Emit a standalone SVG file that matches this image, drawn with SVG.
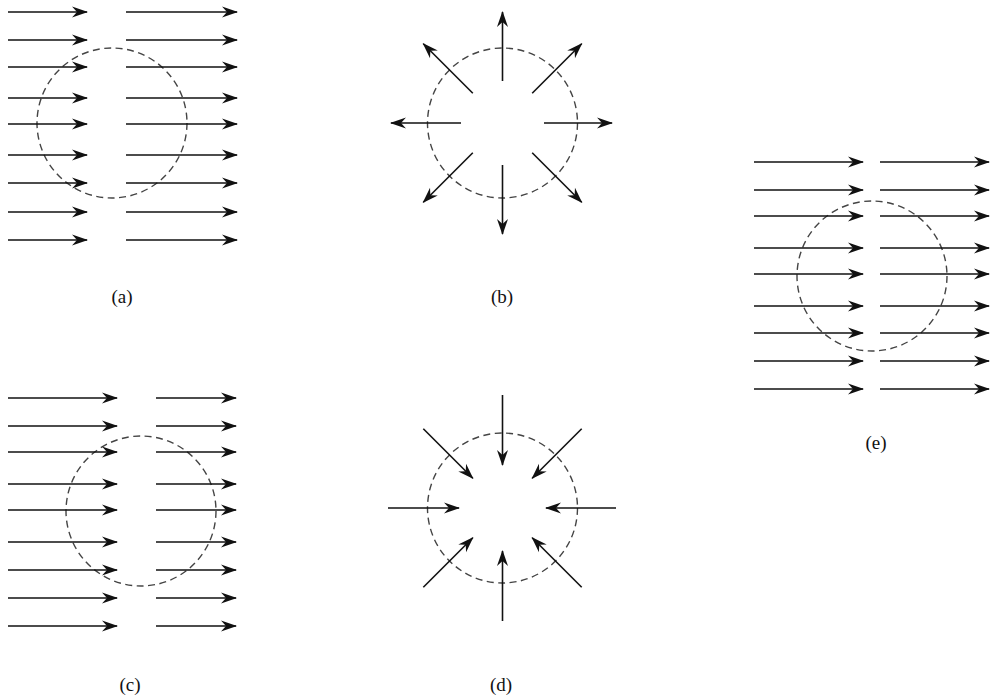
<svg xmlns="http://www.w3.org/2000/svg" width="997" height="698" viewBox="0 0 997 698">
<style>
.ar{stroke:#111;stroke-width:1.6;fill:none;marker-end:url(#ah)}
.ring{fill:none;stroke:#444;stroke-width:1.4;stroke-dasharray:7 4.5}
.lbl{font-family:"Liberation Serif","Times New Roman",serif;font-size:19px;fill:#111;text-anchor:middle}
</style>
<defs>
<marker id="ah" markerUnits="userSpaceOnUse" markerWidth="20" markerHeight="14" refX="-1" refY="0" orient="auto" overflow="visible">
<path d="M0,0 L-16,-5.5 L-11,0 L-16,5.5 Z" fill="#111"/>
</marker>
</defs>
<rect width="997" height="698" fill="#fff"/>
<g id="panel-a">
<circle class="ring" cx="112" cy="123" r="75"/>
<text class="lbl" x="122" y="303">(a)</text>
</g>
<g id="panel-b">
<circle class="ring" cx="502.5" cy="123" r="75"/>
<text class="lbl" x="502" y="303">(b)</text>
</g>
<g id="panel-c">
<circle class="ring" cx="141" cy="511" r="75"/>
<text class="lbl" x="130" y="691">(c)</text>
</g>
<g id="panel-d">
<circle class="ring" cx="502.5" cy="508" r="75"/>
<text class="lbl" x="501" y="691">(d)</text>
</g>
<g id="panel-e">
<circle class="ring" cx="872" cy="276" r="75"/>
<text class="lbl" x="876" y="449">(e)</text>
</g>
<g id="connectors">
<g id="arrows-a">
<line class="ar" x1="8" y1="12" x2="87" y2="12"/><line class="ar" x1="126" y1="12" x2="237" y2="12"/>
<line class="ar" x1="8" y1="40" x2="87" y2="40"/><line class="ar" x1="126" y1="40" x2="237" y2="40"/>
<line class="ar" x1="8" y1="67" x2="87" y2="67"/><line class="ar" x1="126" y1="67" x2="237" y2="67"/>
<line class="ar" x1="8" y1="98" x2="87" y2="98"/><line class="ar" x1="126" y1="98" x2="237" y2="98"/>
<line class="ar" x1="8" y1="124" x2="87" y2="124"/><line class="ar" x1="126" y1="124" x2="237" y2="124"/>
<line class="ar" x1="8" y1="155" x2="87" y2="155"/><line class="ar" x1="126" y1="155" x2="237" y2="155"/>
<line class="ar" x1="8" y1="183" x2="87" y2="183"/><line class="ar" x1="126" y1="183" x2="237" y2="183"/>
<line class="ar" x1="8" y1="212" x2="87" y2="212"/><line class="ar" x1="126" y1="212" x2="237" y2="212"/>
<line class="ar" x1="8" y1="240" x2="87" y2="240"/><line class="ar" x1="126" y1="240" x2="237" y2="240"/>
</g>
<g id="arrows-b">
<line class="ar" x1="502.5" y1="81" x2="502.5" y2="12"/>
<line class="ar" x1="502.5" y1="165" x2="502.5" y2="234"/>
<line class="ar" x1="461" y1="123" x2="391" y2="123"/>
<line class="ar" x1="544" y1="123" x2="612" y2="123"/>
<line class="ar" x1="532.2" y1="93.3" x2="581.7" y2="43.8"/>
<line class="ar" x1="472.8" y1="93.3" x2="423.3" y2="43.8"/>
<line class="ar" x1="532.2" y1="152.7" x2="581.7" y2="202.2"/>
<line class="ar" x1="472.8" y1="152.7" x2="423.3" y2="202.2"/>
</g>
<g id="arrows-c">
<line class="ar" x1="8" y1="398" x2="117" y2="398"/><line class="ar" x1="156" y1="398" x2="236" y2="398"/>
<line class="ar" x1="8" y1="426" x2="117" y2="426"/><line class="ar" x1="156" y1="426" x2="236" y2="426"/>
<line class="ar" x1="8" y1="452" x2="117" y2="452"/><line class="ar" x1="156" y1="452" x2="236" y2="452"/>
<line class="ar" x1="8" y1="484" x2="117" y2="484"/><line class="ar" x1="156" y1="484" x2="236" y2="484"/>
<line class="ar" x1="8" y1="510" x2="117" y2="510"/><line class="ar" x1="156" y1="510" x2="236" y2="510"/>
<line class="ar" x1="8" y1="542" x2="117" y2="542"/><line class="ar" x1="156" y1="542" x2="236" y2="542"/>
<line class="ar" x1="8" y1="570" x2="117" y2="570"/><line class="ar" x1="156" y1="570" x2="236" y2="570"/>
<line class="ar" x1="8" y1="598" x2="117" y2="598"/><line class="ar" x1="156" y1="598" x2="236" y2="598"/>
<line class="ar" x1="8" y1="626" x2="117" y2="626"/><line class="ar" x1="156" y1="626" x2="236" y2="626"/>
</g>
<g id="arrows-d">
<line class="ar" x1="502.5" y1="395" x2="502.5" y2="465"/>
<line class="ar" x1="502.5" y1="621" x2="502.5" y2="551"/>
<line class="ar" x1="388" y1="508" x2="459" y2="508"/>
<line class="ar" x1="616" y1="508" x2="546" y2="508"/>
<line class="ar" x1="423.3" y1="428.8" x2="472.8" y2="478.3"/>
<line class="ar" x1="581.7" y1="428.8" x2="532.2" y2="478.3"/>
<line class="ar" x1="423.3" y1="587.2" x2="472.8" y2="537.7"/>
<line class="ar" x1="581.7" y1="587.2" x2="532.2" y2="537.7"/>
</g>
<g id="arrows-e">
<line class="ar" x1="754" y1="162" x2="863" y2="162"/><line class="ar" x1="880" y1="162" x2="989" y2="162"/>
<line class="ar" x1="754" y1="190" x2="863" y2="190"/><line class="ar" x1="880" y1="190" x2="989" y2="190"/>
<line class="ar" x1="754" y1="216" x2="863" y2="216"/><line class="ar" x1="880" y1="216" x2="989" y2="216"/>
<line class="ar" x1="754" y1="248" x2="863" y2="248"/><line class="ar" x1="880" y1="248" x2="989" y2="248"/>
<line class="ar" x1="754" y1="274" x2="863" y2="274"/><line class="ar" x1="880" y1="274" x2="989" y2="274"/>
<line class="ar" x1="754" y1="306" x2="863" y2="306"/><line class="ar" x1="880" y1="306" x2="989" y2="306"/>
<line class="ar" x1="754" y1="333" x2="863" y2="333"/><line class="ar" x1="880" y1="333" x2="989" y2="333"/>
<line class="ar" x1="754" y1="361" x2="863" y2="361"/><line class="ar" x1="880" y1="361" x2="989" y2="361"/>
<line class="ar" x1="754" y1="389" x2="863" y2="389"/><line class="ar" x1="880" y1="389" x2="989" y2="389"/>
</g>
</g>
</svg>
